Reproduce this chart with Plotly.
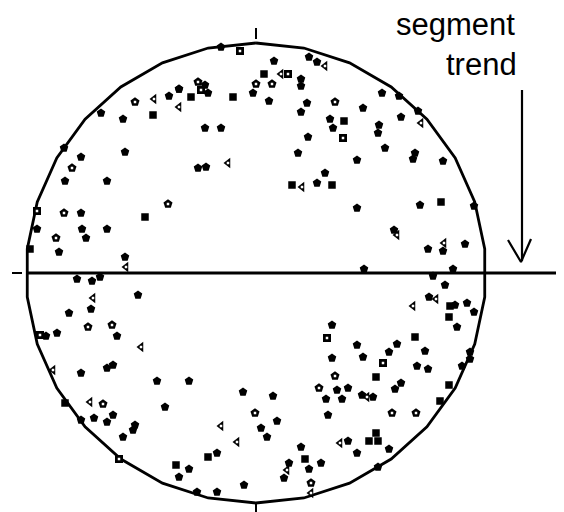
import numpy as np
import plotly.graph_objects as go

# projected positions on the net (radius 230), grouped by symbol
filled_x = [-87, -77, -155, -133, -192, -175, -131, -191, -149, -175, -219, -174, -170, -149, -197, -131,
            -35, 18, 53, 61, -51, -48, -77, -3, 13, 45, 45, 51, 45, 74, 77, -51, -35, 52, 42, -58, -50, 69, 61,
            107, 126, 143, 145, 123, 122, 162, 129, 101, 159, 157, 187, 101, 164, 218, 138, 172, 187, 209, 108, 197,
            -179, -164, -156, -165, -187, -118, -139, -210, -199, -175, -149, -143, -99, -175, -162, -149, -143,
            -121, -123, -133, -91, -77,
            76, 76, -67, -13, 17, 70, 72, 21, 5, 11, -39, 45, 33, 28, 53, 65, -67, -12, -59, -39,
            177, 189, 173, 199, 211, 218, 201, 101, 141, 133, 107, 169, 161, 172, 214, 214, 206,
            92, 81, 86, 106, 117, 139, 145, 92, 133, 101, 122]
filled_y = [177, 184, 160, 154, 125, 116, 121, 92, 92, 60, 44, 44, 35, 44, 21, 16,
            226, 212, 216, 211, 188, 180, 184, 180, 172, 194, 187, 170, 161, 154, 145, 145, 145, 136, 120, 105, 106, 100, 90,
            165, 180, 177, 156, 148, 140, 162, 125, 113, 120, 114, 112, 65, 68, 67, 43, 24, 22, 29, 4, 4,
            -6, -8, -4, -36, -40, -22, -63, -63, -60, -100, -95, -92, -108, -147, -145, -149, -142,
            -152, -157, -164, -134, -204,
            -52, -85, -108, -119, -123, -126, -142, -148, -155, -164, -180, -174, -190, -205, -196, -190, -196, -212, -219, -219,
            -3, -12, -24, -32, -30, -39, -54, -72, -71, -79, -84, -78, -93, -96, -79, -86, -93,
            -115, -117, -126, -122, -124, -116, -110, -168, -176, -180, -194]

square_x = [-103, -111, -226, 8, -65, -23, 36, 76, 88, 185, -191, -80, -48, 49, 194, 193, 159, 120, 193, 184,
            120, 113, 122]
square_y = [158, 56, 24, 199, 176, 176, 88, 88, 152, 71, -130, -192, -184, -186, -33, -44, -64, -104, -112, -128,
            -160, -168, -168]

open_square_x = [-219, -16, 32, -55, 87, -216, -137, 71, 127]
open_square_y = [62, 222, 199, 183, 135, -62, -186, -65, -90]

open_pent_x = [-121, -184, -88, -192, -200, -58, 0, 16, 79, -168, -144, -153, 63, -1, 55, 79, 136, 160]
open_pent_y = [171, 105, 69, 60, 35, 191, 189, 189, 171, -54, -52, -131, -115, -140, -210, -103, -140, -140]

open_tri_x = [-102, -77, -130, 69, 25, -28, 46, 165, 141, 188, -163, -115, -203, -166,
              -35, -19, 31, 55, 180, 157, 111, 84]
open_tri_y = [174, 166, 6, 207, 199, 110, 86, 150, 38, 30, -25, -74, -97, -129,
              -153, -169, -197, -220, -26, -33, -124, -170]

R = 230

fig = go.Figure()

# net outline (polygonal, as drawn in the original)
t = np.linspace(0, 2 * np.pi, 31)
fig.add_trace(go.Scatter(x=R * np.sin(t), y=R * np.cos(t), mode='lines',
                         line=dict(color='black', width=2.8), hoverinfo='skip'))

# section line and ticks
fig.add_trace(go.Scatter(x=[-R, 320], y=[0, 0], mode='lines', line=dict(color='black', width=2.8)))
fig.add_trace(go.Scatter(x=[-244, -234], y=[0, 0], mode='lines', line=dict(color='black', width=2)))
fig.add_trace(go.Scatter(x=[0, 0], y=[234, 245], mode='lines', line=dict(color='black', width=2)))
fig.add_trace(go.Scatter(x=[0, 0], y=[-231, -245], mode='lines', line=dict(color='black', width=2)))

# trend arrow
fig.add_trace(go.Scatter(x=[266, 266], y=[183, 12], mode='lines', line=dict(color='black', width=2.2)))
fig.add_trace(go.Scatter(x=[252, 265, 275], y=[33, 11, 34], mode='lines', line=dict(color='black', width=2.2)))

fig.add_trace(go.Scatter(x=filled_x, y=filled_y, mode='markers',
                         marker=dict(symbol='pentagon', color='black', size=9)))
fig.add_trace(go.Scatter(x=square_x, y=square_y, mode='markers',
                         marker=dict(symbol='square', color='black', size=7.5)))

# "open" symbols: heavy black outline with a small white centre
for xs, ys, sym, sz in [(open_square_x, open_square_y, 'square', 8),
                        (open_pent_x, open_pent_y, 'pentagon', 9.5),
                        (open_tri_x, open_tri_y, 'triangle-left', 9)]:
    fig.add_trace(go.Scatter(x=xs, y=ys, mode='markers',
                             marker=dict(symbol=sym, color='black', size=sz)))
    fig.add_trace(go.Scatter(x=xs, y=ys, mode='markers',
                             marker=dict(symbol='square', color='white', size=2.5)))

fig.add_annotation(x=261, y=249, text='segment', showarrow=False, xanchor='right', yanchor='middle',
                   font=dict(family='Liberation Sans, Arial', size=31, color='black'))
fig.add_annotation(x=263, y=209, text='trend', showarrow=False, xanchor='right', yanchor='middle',
                   font=dict(family='Liberation Sans, Arial', size=31, color='black'))

# ranges set so that one data unit is one pixel (page body adds an 8 px offset)
fig.update_layout(width=564, height=512, margin=dict(l=0, r=0, t=0, b=0),
                  plot_bgcolor='white', paper_bgcolor='white', showlegend=False,
                  xaxis=dict(range=[-248, 316], visible=False, fixedrange=True),
                  yaxis=dict(range=[-247, 265], visible=False, fixedrange=True))

fig.write_html("out.html")
